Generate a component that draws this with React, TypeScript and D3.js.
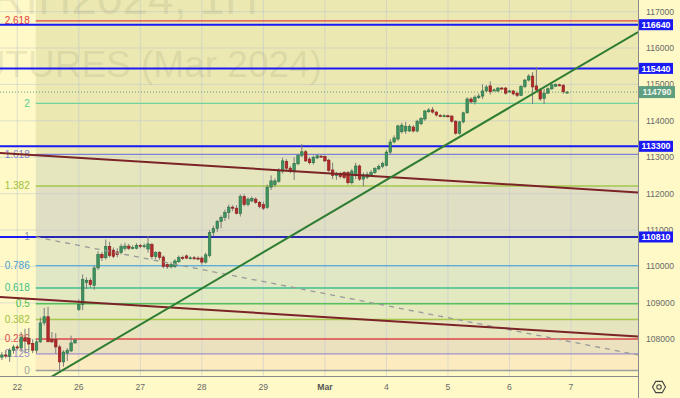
import React from "react";
import * as d3 from "d3";

// ---------- data ----------
const dayLabels = ["22", "26", "27", "28", "29", "Mar", "4", "5", "6", "7"];
const priceTicks = [108000, 109000, 110000, 111000, 112000, 113000, 114000, 115000, 116000, 117000];

// OHLC per hourly bar [open, high, low, close]
const feb21 = [
  [107510, 107650, 107430, 107570],
  [107570, 107700, 107480, 107540],
  [107530, 107760, 107380, 107700],
  [107700, 107850, 107600, 107790],
];
const feb22 = [
  [107790, 107850, 107700, 107760],
  [107760, 108200, 107650, 108060],
  [108040, 108290, 107620, 107950],
  [108030, 108310, 107650, 107870],
  [107890, 108000, 107620, 107700],
  [107700, 108000, 107620, 107930],
  [107930, 108600, 107900, 108450],
  [108450, 108860, 108380, 108620],
  [108620, 108890, 107930, 107930],
  [107990, 108200, 107900, 107930],
  [107990, 108170, 107600, 107790],
  [107790, 107850, 107150, 107380],
  [107380, 107700, 107250, 107650],
  [107620, 107760, 107400, 107700],
  [107680, 108100, 107650, 107900],
  [107900, 108010, 107880, 107980],
];
const feb26 = [
  [108820, 109100, 108780, 108960],
  [108960, 109780, 108800, 109640],
  [109560, 109700, 109380, 109620],
  [109620, 109680, 109420, 109500],
  [109480, 110020, 109360, 109960],
  [109960, 110420, 109900, 110330],
  [110330, 110400, 110150, 110240],
  [110240, 110740, 110190, 110550],
  [110550, 110680, 110250, 110300],
  [110450, 110520, 110230, 110280],
  [110400, 110500, 110250, 110330],
  [110380, 110620, 110330, 110550],
  [110500, 110650, 110440, 110560],
  [110560, 110620, 110450, 110500],
  [110510, 110580, 110470, 110520],
  [110500, 110640, 110470, 110580],
];
const feb27 = [
  [110580, 110620, 110500, 110560],
  [110550, 110630, 110500, 110570],
  [110480, 110830, 110380, 110620],
  [110600, 110650, 110200, 110270],
  [110270, 110420, 110200, 110380],
  [110380, 110420, 110180, 110250],
  [110260, 110300, 109950, 110000],
  [110050, 110080, 109930, 109990],
  [109990, 110120, 109950, 110050],
  [110000, 110200, 109960, 110150],
  [110130, 110300, 110100, 110250],
  [110250, 110300, 110180, 110230],
  [110290, 110330, 110200, 110230],
  [110230, 110280, 110190, 110240],
  [110240, 110290, 110180, 110230],
  [110230, 110280, 110170, 110220],
];
const feb28 = [
  [110230, 110280, 110050, 110120],
  [110120, 110380, 110080, 110320],
  [110300, 111000, 110250, 110930],
  [110930, 111120, 110830, 111040],
  [111040, 111280, 110950, 111240],
  [111240, 111400, 111050, 111350],
  [111350, 111560, 111250, 111480],
  [111480, 111700, 111300, 111630],
  [111630, 111680, 111520, 111600],
  [111600, 111680, 111430, 111460],
  [111450, 111980, 111370, 111920],
  [111920, 111980, 111650, 111700],
  [111700, 111900, 111650, 111850],
  [111800, 111920, 111760, 111870],
  [111850, 111900, 111720, 111760],
  [111760, 111800, 111600, 111650],
];
const feb29 = [
  [111700, 111780, 111550, 111600],
  [111620, 112250, 111580, 112180],
  [112180, 112500, 112100, 112350],
  [112250, 112420, 112180, 112350],
  [112340, 112700, 112300, 112620],
  [112620, 112990, 112550, 112900],
  [112880, 112950, 112650, 112700],
  [112700, 112760, 112560, 112620],
  [112600, 113000, 112380, 112830],
  [112820, 113100, 112780, 113050],
  [113050, 113360, 113000, 113150],
  [113150, 113200, 112870, 112900],
  [112950, 113000, 112800, 112850],
  [112850, 113050, 112800, 113000],
  [112980, 113080, 112950, 113040],
  [113030, 113060, 112980, 113010],
];
const mar1 = [
  [113020, 113050, 112870, 112900],
  [112920, 112960, 112600, 112640],
  [112650, 112850, 112400, 112500],
  [112500, 112600, 112380, 112560],
  [112550, 112600, 112420, 112470],
  [112580, 112620, 112400, 112440],
  [112580, 112620, 112250, 112300],
  [112300, 112680, 112250, 112620],
  [112500, 112850, 112400, 112760],
  [112760, 112800, 112350, 112400],
  [112400, 112580, 112200, 112520],
  [112450, 112600, 112400, 112530],
  [112520, 112650, 112480, 112580],
  [112580, 112730, 112540, 112690],
  [112680, 112800, 112640, 112750],
  [112750, 112880, 112700, 112830],
];
const mar4 = [
  [112780, 113200, 112750, 113140],
  [113140, 113500, 113080, 113420],
  [113420, 113600, 113380, 113530],
  [113500, 113900, 113450, 113860],
  [113700, 113950, 113650, 113880],
  [113720, 113970, 113640, 113850],
  [113720, 113900, 113700, 113850],
  [113830, 113880, 113680, 113720],
  [113720, 114030, 113680, 113990],
  [113920, 114100, 113880, 114060],
  [114050, 114300, 114000, 114270],
  [114250, 114350, 114220, 114300],
  [114300, 114380, 114200, 114240],
  [114240, 114270, 114120, 114160],
  [114150, 114190, 114100, 114130],
  [114130, 114180, 114100, 114140],
];
const mar5 = [
  [114140, 114170, 114080, 114120],
  [114130, 114160, 113950, 113990],
  [113990, 114020, 113620, 113660],
  [113660, 114000, 113620, 113970],
  [113970, 114250, 113930, 114220],
  [114220, 114650, 114200, 114600],
  [114600, 114650, 114480, 114520],
  [114520, 114700, 114450, 114650],
  [114640, 114750, 114600, 114680],
  [114680, 115000, 114600, 114820],
  [114820, 114980, 114780, 114930],
  [114960, 115080, 114720, 114800],
  [114830, 114890, 114800, 114850],
  [114820, 114930, 114790, 114900],
  [114900, 114930, 114850, 114880],
  [114900, 114930, 114720, 114760],
];
const mar6 = [
  [114800, 114850, 114780, 114820],
  [114820, 114850, 114700, 114740],
  [114760, 114800, 114650, 114700],
  [114700, 114980, 114680, 114940],
  [114940, 115150, 114900, 115120],
  [115120, 115280, 115080, 115230],
  [115230, 115340, 114460, 114930],
  [114960, 115480, 114800, 114850],
  [114850, 114900, 114550, 114600],
  [114620, 114880, 114460, 114760],
  [114760, 114920, 114740, 114880],
  [114880, 115020, 114850, 114990],
  [114950, 115030, 114930, 115000],
  [114990, 115020, 114950, 114980],
  [114980, 115000, 114740, 114800],
  [114770, 114820, 114750, 114790],
];

// Fibonacci extension
const fibLow = 107143;
const fibHigh = 110810;
const fibLevels = [0, 0.125, 0.236, 0.382, 0.5, 0.618, 0.786, 1, 1.382, 1.618, 2, 2.618];
const fibLabels = ["0", "0.125", "0.236", "0.382", "0.5", "0.618", "0.786", "1", "1.382", "1.618", "2", "2.618"];
const fibStartDay = 0.3;

// horizontal key levels and last price
const keyLevels = [116640, 115440, 113300, 110810];
const lastPrice = 114790;

// trend lines: [dayPosition, price]
const greenTrend = [[0.55, 106966], [10.09, 116440]];
const brownUpper = [[-0.28, 113117], [10.09, 112035]];
const brownLower = [[-0.28, 109163], [10.09, 108078]];
const grayDashed = [[0.3, 110810], [10.09, 107570]];

// ---------- styles ----------
const fibLineColors = ["#9e9e9e", "#a08fcc", "#e04848", "#a8c84c", "#56c156", "#3fbf8c", "#5aaed8", "#2c2c9c", "#a3c84a", "#7d82d8", "#6fd4a0", "#e8403c"];
const fibLabelColors = ["#9e9e9e", "#9a88cc", "#e04848", "#a0c040", "#4cc04c", "#3fbf8c", "#4aa0d0", "#9a9aa8", "#9ec040", "#7d82d8", "#5ccc95", "#e8403c"];
const fibBandColors = ["#fcebbf", "#ebe1bf", "#e7e5bf", "#e5e9bd", "#e2e9c1", "#e0e7c5", "#e5e8c2", "#e1dfc3", "#e5e6bd", "#ebe8b1", "#ebe8b1"];

const W = 680, H = 398;
const plotR = 638, plotB = 376;
const FONT = "'Liberation Sans', Arial, sans-serif";

export default function App() {
  const x = d3.scaleLinear().domain([0, 9]).range([17.3, 571]);
  const y = d3.scaleLinear().domain([108000, 117000]).range([339.3, 11.6]);
  const slot = 16;

  const days: [number, number[][], number][] = [
    [-1, feb21, 12], [0, feb22, 0], [1, feb26, 0], [2, feb27, 0], [3, feb28, 0],
    [4, feb29, 0], [5, mar1, 0], [6, mar4, 0], [7, mar5, 0], [8, mar6, 0],
  ];
  const bars: { t: number; o: number; h: number; l: number; c: number }[] = [];
  days.forEach(([k, arr, s]) => arr.forEach((b, j) => bars.push({ t: k + (s + j) / slot, o: b[0], h: b[1], l: b[2], c: b[3] })));
  const bw = ((x(1) - x(0)) / slot) * 0.66;

  const fibPrice = (lv: number) => fibLow + lv * (fibHigh - fibLow);
  const fx0 = x(fibStartDay);

  const extLine = (pts: number[][]) => {
    const [a, b] = pts;
    const f = d3.scaleLinear().domain([a[0], b[0]]).range([a[1], b[1]]);
    const t0 = x.invert(0), t1 = x.invert(plotR);
    return { x1: 0, y1: y(f(t0)), x2: plotR, y2: y(f(t1)) };
  };
  const rayLine = (pts: number[][]) => {
    const [a, b] = pts;
    const f = d3.scaleLinear().domain([a[0], b[0]]).range([a[1], b[1]]);
    const t1 = x.invert(plotR);
    return { x1: x(a[0]), y1: y(a[1]), x2: plotR, y2: y(f(t1)) };
  };

  const g = extLine(greenTrend);
  const bu = extLine(brownUpper);
  const bl = extLine(brownLower);
  const gd = rayLine(grayDashed);

  return (
    <svg width={W} height={H} style={{ position: "absolute", left: 0, top: 0, fontFamily: FONT }}>
      <defs>
        <clipPath id="plot"><rect x={0} y={0} width={plotR} height={plotB} /></clipPath>
      </defs>
      <rect x={0} y={0} width={W} height={H} fill="#fef9c6" />
      <g clipPath="url(#plot)">
        {/* fib bands */}
        <rect x={fx0} y={0} width={plotR - fx0} height={y(fibPrice(fibLevels[fibLevels.length - 1]))} fill={fibBandColors[fibBandColors.length - 1]} />
        {fibLevels.slice(0, -1).map((lv, i) => {
          const y0 = y(fibPrice(fibLevels[i + 1]));
          const y1 = y(fibPrice(lv));
          return <rect key={"b" + i} x={fx0} y={y0} width={plotR - fx0} height={y1 - y0} fill={fibBandColors[i]} />;
        })}
        {/* grid */}
        {priceTicks.map((p) => (
          <line key={"gh" + p} x1={0} x2={plotR} y1={y(p)} y2={y(p)} stroke="#b8c0d8" strokeOpacity={0.45} />
        ))}
        {dayLabels.map((d, i) => (
          <line key={"gv" + i} x1={x(i)} x2={x(i)} y1={0} y2={plotB} stroke="#b8c0d8" strokeOpacity={0.45} />
        ))}
        {/* watermark */}
        <text x={258} y={14} textAnchor="end" fontSize={46} fill="#8a8870" fillOpacity={0.16}>RIH2024, 1H</text>
        <text x={322} y={77} textAnchor="end" fontSize={37} fill="#8a8870" fillOpacity={0.16}>RTS INDEX FUTURES (Mar 2024)</text>
        {/* fib lines */}
        {fibLevels.map((lv, i) => (
          <line key={"fl" + i} x1={fx0} x2={plotR} y1={y(fibPrice(lv))} y2={y(fibPrice(lv))} stroke={fibLineColors[i]} strokeWidth={1.3} />
        ))}
        {fibLevels.map((lv, i) => (
          <text key={"ft" + i} x={fx0 - 6} y={y(fibPrice(lv))} dy="0.35em" textAnchor="end" fontSize={10} fill={fibLabelColors[i]}>{fibLabels[i]}</text>
        ))}
        {/* key horizontal levels */}
        {keyLevels.map((p) => (
          <line key={"k" + p} x1={0} x2={plotR} y1={y(p)} y2={y(p)} stroke="#1a1af5" strokeWidth={2} />
        ))}
        <line x1={fx0} x2={plotR} y1={y(fibHigh)} y2={y(fibHigh)} stroke="#2c2c9c" strokeWidth={1.5} />
        {/* last price dotted */}
        <line x1={0} x2={plotR} y1={y(lastPrice)} y2={y(lastPrice)} stroke="#5f9f80" strokeDasharray="1,2" />
        {/* candles */}
        {bars.map((b, i) => {
          const cx = x(b.t);
          const up = b.c >= b.o;
          const top = y(Math.max(b.o, b.c));
          const bot = y(Math.min(b.o, b.c));
          return (
            <g key={"c" + i}>
              <line x1={cx} x2={cx} y1={y(b.h)} y2={y(b.l)} stroke="#7d7d7d" strokeWidth={1} />
              <rect x={cx - bw / 2} y={top} width={bw} height={Math.max(1, bot - top)}
                fill={up ? "#3f9361" : "#b3292b"} stroke={up ? "#2a6f46" : "#8a1c1c"} strokeWidth={0.6} />
            </g>
          );
        })}
        {/* trend lines */}
        <line {...gd} stroke="#9a9a9a" strokeWidth={1.3} strokeDasharray="5,5" />
        <line {...bu} stroke="#7b2326" strokeWidth={2} />
        <line {...bl} stroke="#7b2326" strokeWidth={2} />
        <line {...g} stroke="#2e7d32" strokeWidth={2} />
      </g>
      {/* axes */}
      <line x1={plotR + 0.5} x2={plotR + 0.5} y1={0} y2={H} stroke="#8a8a8a" />
      <line x1={0} x2={plotR} y1={plotB + 0.5} y2={plotB + 0.5} stroke="#8a8a8a" />
      {priceTicks.map((p) => (
        <text key={"pt" + p} x={646} y={y(p)} dy="0.35em" fontSize={8.6} fill="#6a6a6a">{p}</text>
      ))}
      {dayLabels.map((d, i) => (
        <text key={"dl" + i} x={x(i)} y={390} textAnchor="middle" fontSize={8.6} fill={d === "Mar" ? "#555" : "#6a6a6a"} fontWeight={d === "Mar" ? 700 : 400}>{d}</text>
      ))}
      {/* price boxes */}
      {keyLevels.map((p) => (
        <g key={"kb" + p}>
          <rect x={plotR + 1} y={y(p) - 5.5} width={34} height={11} fill="#1a1af5" />
          <text x={plotR + 18} y={y(p)} dy="0.36em" textAnchor="middle" fontSize={8.8} fontWeight={700} fill="#ffffff">{p}</text>
        </g>
      ))}
      <rect x={plotR + 1} y={y(lastPrice) - 6} width={36} height={12} fill="#5f9f80" />
      <text x={plotR + 19} y={y(lastPrice)} dy="0.36em" textAnchor="middle" fontSize={8.8} fontWeight={700} fill="#eef6ee">{lastPrice}</text>
      {/* settings icon */}
      <g transform="translate(659,387)" fill="none" stroke="#444" strokeWidth={1.1}>
        <path d={d3.range(6).map((i) => { const a = (Math.PI / 3) * i; return (i ? "L" : "M") + (6.5 * Math.cos(a)).toFixed(2) + "," + (6.5 * Math.sin(a)).toFixed(2); }).join("") + "Z"} />
        <circle r={2.2} />
      </g>
    </svg>
  );
}
